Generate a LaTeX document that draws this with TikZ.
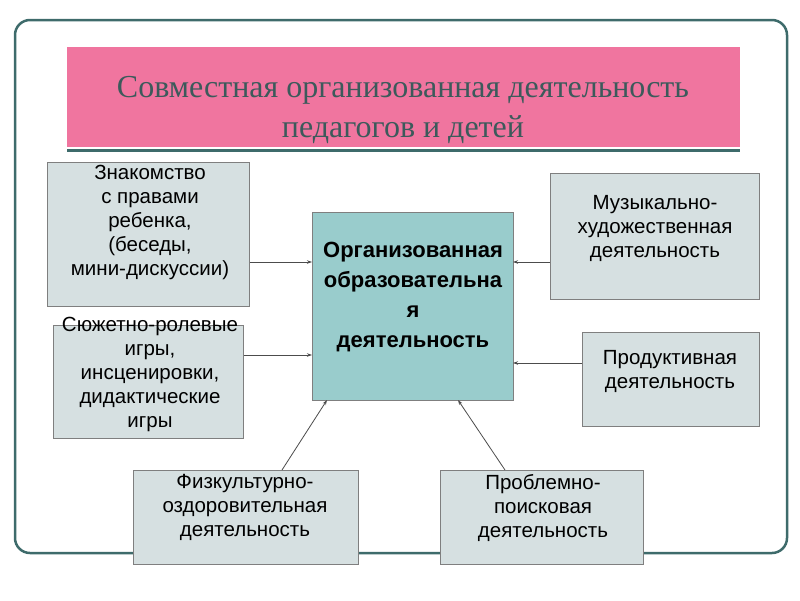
\documentclass[tikz,border=0pt]{standalone}
\usepackage{fontspec}
\setmainfont{Liberation Sans}
\newfontfamily\titlefont{Liberation Serif}
\usetikzlibrary{arrows.meta}

\definecolor{framecol}{HTML}{3E6B6B}
\definecolor{titlepink}{HTML}{F0759F}
\definecolor{titletext}{HTML}{3C5A5B}
\definecolor{boxfill}{HTML}{D6E0E1}
\definecolor{mainfill}{HTML}{99CCCC}
\definecolor{boxline}{HTML}{7F7F7F}

\tikzset{
    sidebox/.style={draw=boxline, fill=boxfill, line width=1pt, anchor=north west, inner sep=0pt},
    boxtext/.style={align=center, font=\fontsize{20.5}{24}\selectfont, inner sep=0pt, anchor=north},
    feed/.style={draw=black!70, line width=0.8pt, -{Stealth[length=5pt,width=3.5pt]}}
}

\begin{document}
\begin{tikzpicture}[x=1pt, y=-1pt]
        \useasboundingbox (0,0) rectangle (800,600);
        % frame and title
        \draw[framecol, line width=2.5pt, rounded corners=15pt] (15,20) rectangle (787,553);
        \fill[titlepink] (67,47) rectangle (740,147);
        \draw[framecol, line width=3pt] (67,150) -- (740,150);
        \node[align=center, text=titletext, font=\titlefont\fontsize{32}{40}\selectfont] (title) at (403,110)
            {Совместная организованная деятельность\\педагогов и детей};

        % boxes
        \node[sidebox, fill=mainfill, minimum width=201pt, minimum height=188pt] (main) at (312,212) {};
        \node[sidebox, minimum width=202pt, minimum height=144pt] (rights) at (47,162) {};
        \node[sidebox, minimum width=190pt, minimum height=113pt] (games) at (53,325) {};
        \node[sidebox, minimum width=209pt, minimum height=126pt] (music) at (550,173) {};
        \node[sidebox, minimum width=177pt, minimum height=94pt] (product) at (582,332) {};
        \node[sidebox, minimum width=225pt, minimum height=94pt] (sport) at (133,470) {};
        \node[sidebox, minimum width=203pt, minimum height=94pt] (search) at (440,470) {};

        % texts
        \node[boxtext, font=\bfseries\fontsize{22}{30}\selectfont] (mainText) at (413,242)
            {Организованная\\образовательна\\я\\деятельность};
        \node[boxtext] (rightsText) at (150,165) {Знакомство\\с правами\\ ребенка,\\(беседы,\\мини-дискуссии)};
        \node[boxtext] (gamesText) at (150,317) {Сюжетно-ролевые\\игры,\\инсценировки,\\дидактические\\игры};
        \node[boxtext] (musicText) at (655,195) {Музыкально-\\художественная\\деятельность};
        \node[boxtext] (productText) at (670,350) {Продуктивная\\деятельность};
        \node[boxtext] (sportText) at (245,474) {Физкультурно-\\оздоровительная\\деятельность};
        \node[boxtext] (searchText) at (543,474) {Проблемно-\\поисковая\\деятельность};

        % arrows
        \coordinate (inA) at (312,262);
        \coordinate (inB) at (312,355);
        \coordinate (inC) at (513,262);
        \coordinate (inD) at (513,363);
        \coordinate (inE) at (327,400);
        \coordinate (inF) at (458,400);
        \coordinate (outE) at (282,470);
        \coordinate (outF) at (505,470);
        \draw[feed] (rights.east |- inA) -- (inA);
        \draw[feed] (games.east |- inB) -- (inB);
        \draw[feed] (music.west |- inC) -- (inC);
        \draw[feed] (product.west |- inD) -- (inD);
        \draw[feed] (outE) -- (inE);
        \draw[feed] (outF) -- (inF);
    \end{tikzpicture}
\end{document}
